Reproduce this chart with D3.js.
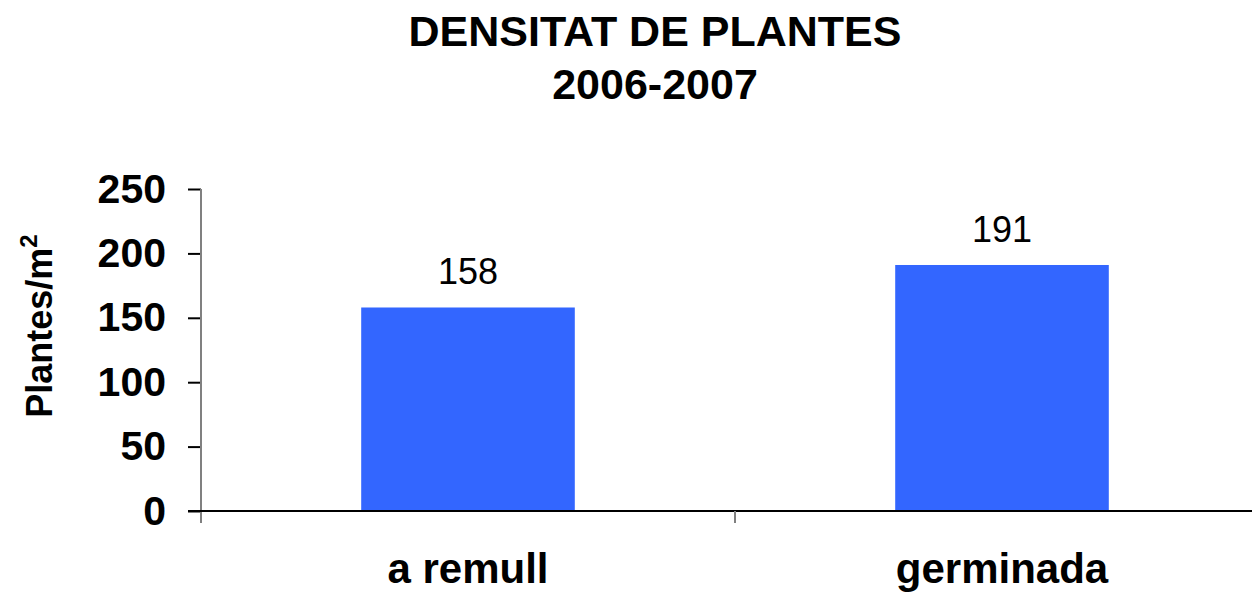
<!DOCTYPE html>
<html>
<head>
<meta charset="utf-8">
<script src="https://cdn.jsdelivr.net/npm/d3@7"></script>
<style>
  body { margin: 0; background: #fff; }
  svg { display: block; font-family: "Liberation Sans", Arial, sans-serif; }
</style>
</head>
<body>
<svg width="1252" height="595"></svg>
<script>
const categories = ['a remull', 'germinada'];
const values = [158, 191];
const yTicks = [0, 50, 100, 150, 200, 250];
const titleLines = ['DENSITAT DE PLANTES', '2006-2007'];

const svg = d3.select('svg');

const x0 = 201, x1 = 1269;   // plot area runs off the right edge
const yTop = 189, yBottom = 511;

const x = d3.scaleBand()
  .domain(categories)
  .range([x0, x1])
  .paddingInner(0.6)
  .paddingOuter(0.3);

const y = d3.scaleLinear().domain([0, 250]).range([yBottom, yTop]);

// title
svg.append('g')
  .selectAll('text')
  .data(titleLines)
  .join('text')
  .attr('x', 655)
  .attr('y', (d, i) => 46 + i * 53)
  .attr('text-anchor', 'middle')
  .style('font-weight', 'bold')
  .style('font-size', '43px')
  .text(d => d);

// bars
svg.append('g')
  .selectAll('rect')
  .data(values)
  .join('rect')
  .attr('x', (d, i) => x(categories[i]))
  .attr('width', x.bandwidth())
  .attr('y', d => y(d))
  .attr('height', d => y(0) - y(d))
  .style('fill', '#3366ff');

// value labels
svg.append('g')
  .selectAll('text')
  .data(values)
  .join('text')
  .attr('x', (d, i) => x(categories[i]) + x.bandwidth() / 2)
  .attr('y', d => y(d) - 23)
  .attr('text-anchor', 'middle')
  .style('font-size', '36px')
  .text(d => d);

// y axis
const yAxis = svg.append('g')
  .attr('transform', `translate(${x0},0)`)
  .call(d3.axisLeft(y).tickValues(yTicks).tickSize(13).tickSizeOuter(0).tickPadding(22));

yAxis.select('.domain').remove();
yAxis.selectAll('.tick line').style('stroke', '#000').style('stroke-width', 2);
yAxis.selectAll('.tick text')
  .style('font-size', '41px')
  .style('font-weight', 'bold')
  .style('font-family', '"Liberation Sans", Arial, sans-serif')
  .attr('fill', '#000');

// gray vertical axis line, a little past the x axis
svg.append('line')
  .attr('x1', x0).attr('x2', x0)
  .attr('y1', yTop).attr('y2', yBottom + 12)
  .style('stroke', '#808080')
  .style('stroke-width', 2);

// x axis line
svg.append('line')
  .attr('x1', x0 - 13).attr('x2', 1252)
  .attr('y1', y(0)).attr('y2', y(0))
  .style('stroke', '#000')
  .style('stroke-width', 2);

// category boundary ticks
const step = x.step();
const bounds = d3.range(1, categories.length).map(i => x0 + i * step);
svg.append('g')
  .selectAll('line')
  .data(bounds)
  .join('line')
  .attr('x1', d => d).attr('x2', d => d)
  .attr('y1', y(0)).attr('y2', y(0) + 12)
  .style('stroke', '#808080')
  .style('stroke-width', 2);

// category labels
svg.append('g')
  .selectAll('text')
  .data(categories)
  .join('text')
  .attr('x', d => x(d) + x.bandwidth() / 2)
  .attr('y', 583)
  .attr('text-anchor', 'middle')
  .style('font-weight', 'bold')
  .style('font-size', '42px')
  .text(d => d);

// y axis title
const yTitle = svg.append('text')
  .attr('transform', 'translate(52,326) rotate(-90)')
  .attr('text-anchor', 'middle')
  .style('font-weight', 'bold')
  .style('font-size', '36px');
yTitle.append('tspan').text('Plantes/m');
yTitle.append('tspan').attr('dy', -15).style('font-size', '24px').text('2');
</script>
</body>
</html>
